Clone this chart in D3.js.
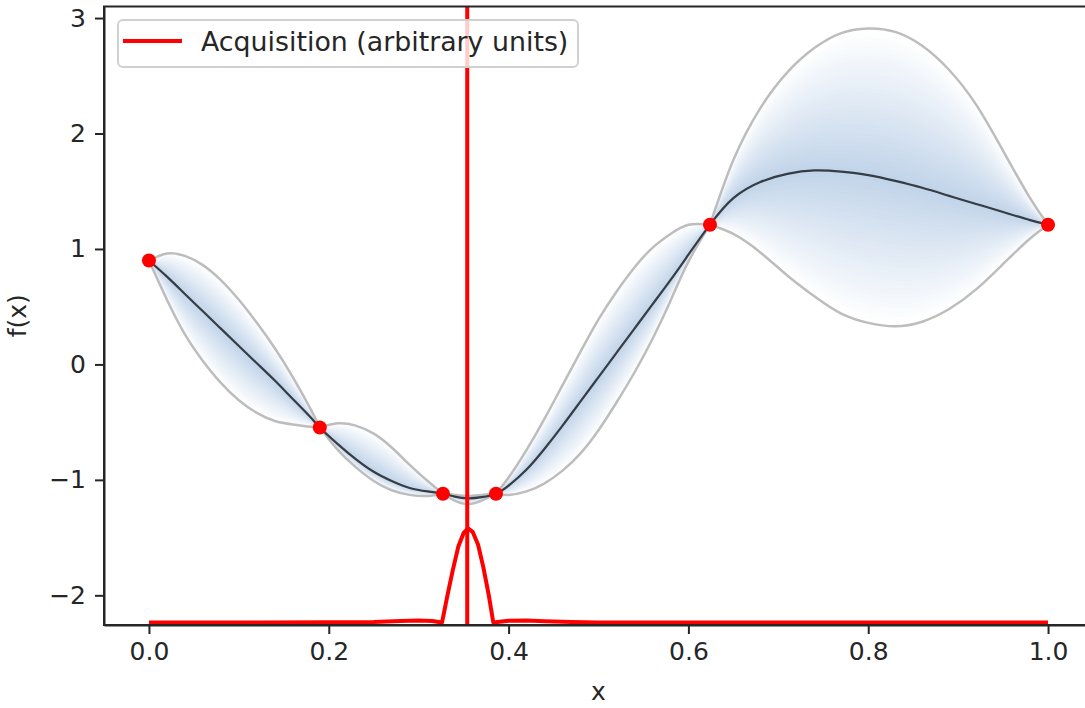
<!DOCTYPE html>
<html lang="en">
<head>
<meta charset="UTF-8">
<title>GP posterior with acquisition</title>
<script src="https://d3js.org/d3.v7.min.js"></script>
<style>
  body { margin: 0; background: #fff; }
  text { font-family: "DejaVu Sans", sans-serif; fill: #262626; }
  .axis text { font-size: 25px; fill: #262626; }
  .axis path, .axis line { stroke: #262626; stroke-width: 2; }
</style>
</head>
<body>
<svg id="chart" width="1085" height="708"></svg>
<script>
const xs = [0, 0.02, 0.04, 0.06, 0.08, 0.10, 0.12, 0.14, 0.16, 0.18, 0.19,
  0.21, 0.23, 0.25, 0.27, 0.29, 0.31, 0.327, 0.34, 0.355, 0.37, 0.386,
  0.40, 0.42, 0.44, 0.46, 0.48, 0.50, 0.52, 0.54, 0.56, 0.58, 0.60, 0.624,
  0.65, 0.68, 0.71, 0.74, 0.77, 0.80, 0.83, 0.86, 0.89, 0.92, 0.95, 0.98, 1.0];
const meanY = [0.90, 0.76, 0.61, 0.46, 0.31, 0.16, 0.01, -0.14, -0.30, -0.46, -0.546,
  -0.69, -0.82, -0.93, -1.01, -1.07, -1.10, -1.12, -1.145, -1.16, -1.15, -1.12,
  -1.05, -0.91, -0.73, -0.53, -0.32, -0.11, 0.10, 0.31, 0.52, 0.73, 0.95, 1.21,
  1.44, 1.58, 1.65, 1.68, 1.67, 1.64, 1.59, 1.53, 1.46, 1.39, 1.32, 1.25, 1.21];
const upperY = [0.90, 0.96, 0.94, 0.86, 0.73, 0.56, 0.36, 0.14, -0.11, -0.39, -0.546,
  -0.51, -0.53, -0.60, -0.72, -0.87, -1.01, -1.12, -1.13, -1.14, -1.13, -1.12,
  -0.98, -0.74, -0.47, -0.18, 0.11, 0.39, 0.63, 0.84, 1.01, 1.13, 1.21, 1.21,
  1.77, 2.22, 2.53, 2.74, 2.87, 2.91, 2.88, 2.76, 2.55, 2.25, 1.85, 1.44, 1.21];
const lowerY = [0.90, 0.56, 0.26, 0.03, -0.16, -0.31, -0.42, -0.49, -0.52, -0.54, -0.546,
  -0.74, -0.89, -1.01, -1.09, -1.13, -1.14, -1.12, -1.18, -1.21, -1.18, -1.12,
  -1.13, -1.10, -1.03, -0.92, -0.77, -0.57, -0.33, -0.07, 0.22, 0.55, 0.89, 1.21,
  1.13, 0.97, 0.77, 0.59, 0.44, 0.36, 0.33, 0.37, 0.48, 0.65, 0.87, 1.09, 1.21];

// observed samples
const obsX = [0, 0.19, 0.327, 0.386, 0.624, 1.0];
const obsY = [0.90, -0.546, -1.12, -1.12, 1.21, 1.21];

// acquisition (arbitrary units, drawn at the bottom of the axes)
const acqX = [0, 0.10, 0.20, 0.25, 0.28, 0.30, 0.315, 0.326, 0.332, 0.338, 0.344,
  0.35, 0.355, 0.36, 0.366, 0.372, 0.378, 0.383, 0.39, 0.40, 0.42, 0.44, 0.47,
  0.50, 0.60, 0.80, 1.0];
const acqY = [-2.235, -2.235, -2.233, -2.23, -2.222, -2.218, -2.222, -2.235, -2.0, -1.78, -1.58,
  -1.46, -1.42, -1.45, -1.56, -1.76, -2.0, -2.235, -2.228, -2.22, -2.218, -2.224, -2.232,
  -2.235, -2.235, -2.235, -2.235];
const nextX = 0.354;

const xTicks = [0, 0.2, 0.4, 0.6, 0.8, 1.0];
const yTicks = [-2, -1, 0, 1, 2, 3];

const svg = d3.select("#chart");
const pLeft = 104, pRight = 1093, pTop = 6.5, pBottom = 625;

const x = d3.scaleLinear().domain([-0.05, 1.05]).range([pLeft, pRight]);
const y = d3.scaleLinear().domain([-2.257, 3.10]).range([pBottom, pTop]);

svg.append("clipPath").attr("id", "plotArea")
  .append("rect").attr("x", pLeft).attr("y", pTop)
  .attr("width", pRight - pLeft).attr("height", pBottom - pTop);

const plot = svg.append("g").attr("clip-path", "url(#plotArea)");

const rows = xs.map((v, i) => ({ x: v, m: meanY[i], u: upperY[i], l: lowerY[i] }));

// split the band at the points where it pinches (observations)
const segments = [];
let cur = [rows[0]];
for (let i = 1; i < rows.length; i++) {
  cur.push(rows[i]);
  if (rows[i].u === rows[i].l) { segments.push(cur); cur = [rows[i]]; }
}

const curve = d3.curveNatural;

// shaded band: nested opaque layers, from white at the edge to blue at the mean
const layers = 32;
const shade = d3.interpolateRgb("#c0d3e9", "#ffffff");
segments.forEach(seg => {
  for (let k = layers; k >= 1; k--) {
    const f = k / layers;
    plot.append("path")
      .datum(seg)
      .attr("fill", shade(f))
      .attr("d", d3.area().curve(curve)
        .x(d => x(d.x))
        .y0(d => y(d.m + (d.l - d.m) * f))
        .y1(d => y(d.m + (d.u - d.m) * f)));
  }
  ["u", "l"].forEach(key => {
    plot.append("path")
      .datum(seg)
      .attr("fill", "none")
      .attr("stroke", "#bdbdbd")
      .attr("stroke-width", 2.5)
      .attr("d", d3.line().curve(curve).x(d => x(d.x)).y(d => y(d[key])));
  });
});

plot.append("path")
  .datum(rows)
  .attr("fill", "none")
  .attr("stroke", "#363c44")
  .attr("stroke-width", 2.2)
  .attr("d", d3.line().curve(curve).x(d => x(d.x)).y(d => y(d.m)));

plot.append("path")
  .datum(acqX.map((v, i) => [v, acqY[i]]))
  .attr("fill", "none")
  .attr("stroke", "#ff0000")
  .attr("stroke-width", 4)
  .attr("stroke-linejoin", "round")
  .attr("d", d3.line().x(d => x(d[0])).y(d => y(d[1])));

plot.append("line")
  .attr("x1", x(nextX)).attr("x2", x(nextX))
  .attr("y1", pTop).attr("y2", pBottom)
  .attr("stroke", "#ff0000").attr("stroke-width", 4);

plot.selectAll(".obs")
  .data(obsX.map((v, i) => [v, obsY[i]]))
  .enter().append("circle")
  .attr("class", "obs")
  .attr("cx", d => x(d[0]))
  .attr("cy", d => y(d[1]))
  .attr("r", 7)
  .attr("fill", "#ff0000");

// axes
svg.append("g").attr("class", "axis")
  .attr("transform", `translate(0,${pBottom})`)
  .call(d3.axisBottom(x).tickValues(xTicks).tickFormat(d3.format(".1f"))
    .tickSize(9).tickPadding(8).tickSizeOuter(0));

svg.append("g").attr("class", "axis")
  .attr("transform", `translate(${pLeft},0)`)
  .call(d3.axisLeft(y).tickValues(yTicks).tickFormat(d3.format("d"))
    .tickSize(9).tickPadding(9).tickSizeOuter(0));

svg.append("rect")
  .attr("x", pLeft).attr("y", pTop)
  .attr("width", pRight - pLeft).attr("height", pBottom - pTop)
  .attr("fill", "none").attr("stroke", "#262626").attr("stroke-width", 2);

svg.append("text")
  .attr("x", (pLeft + pRight) / 2).attr("y", 700)
  .attr("text-anchor", "middle").attr("font-size", 25)
  .text("x");

svg.append("text")
  .attr("transform", `translate(26,${(pTop + pBottom) / 2}) rotate(-90)`)
  .attr("text-anchor", "middle").attr("font-size", 25)
  .text("f(x)");

// legend
const legend = svg.append("g");
legend.append("rect")
  .attr("x", 118).attr("y", 20).attr("width", 460).attr("height", 47).attr("rx", 5)
  .attr("fill", "#fff").attr("fill-opacity", 0.8)
  .attr("stroke", "#d0d0d0").attr("stroke-width", 2);
legend.append("line")
  .attr("x1", 123).attr("x2", 182).attr("y1", 41).attr("y2", 41)
  .attr("stroke", "#ff0000").attr("stroke-width", 4);
legend.append("text")
  .attr("x", 201).attr("y", 51).attr("font-size", 26.8)
  .text("Acquisition (arbitrary units)");
</script>
</body>
</html>
